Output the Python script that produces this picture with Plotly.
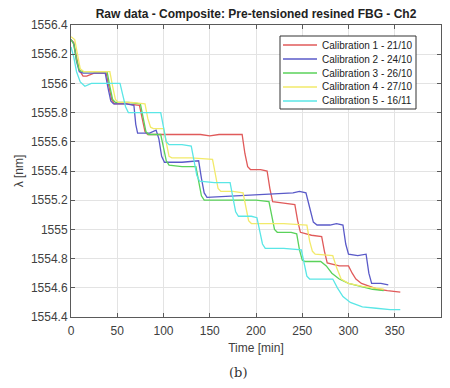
import plotly.graph_objects as go

# ---- data ----
series_names = ["Calibration 1 - 21/10", "Calibration 2 - 24/10", "Calibration 3 - 26/10",
                "Calibration 4 - 27/10", "Calibration 5 - 16/11"]

t_red = [0, 3, 6, 9, 13, 17, 25, 38, 41, 44, 47, 60, 74, 77, 80, 83, 110, 140, 150, 160, 185, 188, 191, 194,
         205, 212, 215, 218, 230, 242, 245, 248, 260, 271, 274, 277, 290, 300, 304, 308, 314, 322, 332, 342, 356]
y_red = [1556.30, 1556.28, 1556.18, 1556.09, 1556.05, 1556.05, 1556.07, 1556.07, 1555.98, 1555.89, 1555.86,
         1555.86, 1555.85, 1555.75, 1555.67, 1555.65, 1555.65, 1555.65, 1555.64, 1555.65, 1555.65, 1555.52,
         1555.43, 1555.41, 1555.41, 1555.40, 1555.28, 1555.19, 1555.18, 1555.17, 1555.06, 1554.98, 1554.96,
         1554.95, 1554.85, 1554.77, 1554.75, 1554.75, 1554.70, 1554.66, 1554.63, 1554.61, 1554.59, 1554.58,
         1554.57]

t_blue = [0, 3, 6, 9, 13, 25, 37, 40, 43, 46, 60, 68, 70, 72, 85, 92, 95, 98, 101, 120, 138, 141, 144, 147,
          180, 220, 240, 247, 254, 258, 262, 266, 280, 287, 294, 297, 300, 310, 319, 322, 325, 335, 343]
y_blue = [1556.30, 1556.27, 1556.15, 1556.08, 1556.07, 1556.07, 1556.07, 1555.97, 1555.88, 1555.86, 1555.86,
          1555.85, 1555.72, 1555.66, 1555.66, 1555.68, 1555.62, 1555.50, 1555.46, 1555.46, 1555.47, 1555.35,
          1555.25, 1555.22, 1555.23, 1555.24, 1555.25, 1555.26, 1555.25, 1555.15, 1555.05, 1555.03, 1555.03,
          1555.04, 1555.03, 1554.90, 1554.83, 1554.82, 1554.83, 1554.70, 1554.63, 1554.63, 1554.62]

t_green = [0, 3, 6, 9, 13, 25, 39, 42, 45, 48, 62, 75, 78, 81, 84, 97, 100, 103, 106, 120, 135, 138, 141, 144,
           170, 200, 214, 217, 220, 223, 238, 244, 247, 250, 253, 270, 276, 282, 290, 300, 312, 326, 338]
y_green = [1556.30, 1556.27, 1556.16, 1556.09, 1556.08, 1556.08, 1556.08, 1555.98, 1555.89, 1555.87, 1555.87,
           1555.86, 1555.76, 1555.67, 1555.65, 1555.65, 1555.56, 1555.47, 1555.44, 1555.43, 1555.43, 1555.32,
           1555.23, 1555.20, 1555.20, 1555.20, 1555.19, 1555.08, 1555.00, 1554.98, 1554.98, 1554.97, 1554.86,
           1554.79, 1554.78, 1554.78, 1554.75, 1554.70, 1554.66, 1554.63, 1554.61, 1554.59, 1554.58]

t_yellow = [0, 4, 7, 10, 14, 25, 42, 45, 48, 51, 65, 80, 83, 86, 89, 100, 103, 106, 109, 130, 153, 156, 159,
            162, 175, 186, 189, 192, 195, 230, 255, 258, 261, 264, 283, 287, 292, 300, 315, 330, 338]
y_yellow = [1556.32, 1556.30, 1556.20, 1556.10, 1556.08, 1556.08, 1556.08, 1555.98, 1555.89, 1555.87, 1555.87,
            1555.86, 1555.76, 1555.70, 1555.69, 1555.69, 1555.58, 1555.50, 1555.49, 1555.49, 1555.48, 1555.37,
            1555.28, 1555.26, 1555.26, 1555.25, 1555.14, 1555.06, 1555.04, 1555.04, 1555.03, 1554.92, 1554.85,
            1554.83, 1554.82, 1554.74, 1554.66, 1554.63, 1554.61, 1554.60, 1554.59]

t_cyan = [0, 3, 6, 10, 15, 22, 35, 53, 56, 59, 62, 80, 97, 100, 103, 106, 120, 130, 133, 136, 139, 155, 172,
          175, 178, 181, 195, 201, 204, 207, 210, 230, 249, 252, 255, 258, 283, 288, 294, 302, 315, 330, 345, 356]
y_cyan = [1556.25, 1556.18, 1556.08, 1556.01, 1555.98, 1556.00, 1556.00, 1556.00, 1555.92, 1555.84, 1555.80,
          1555.80, 1555.80, 1555.70, 1555.60, 1555.58, 1555.58, 1555.57, 1555.47, 1555.37, 1555.33, 1555.32,
          1555.32, 1555.22, 1555.12, 1555.09, 1555.09, 1555.08, 1554.98, 1554.90, 1554.87, 1554.87, 1554.86,
          1554.76, 1554.68, 1554.66, 1554.66, 1554.60, 1554.54, 1554.50, 1554.47, 1554.46, 1554.45, 1554.45]

x_ticks = [0, 50, 100, 150, 200, 250, 300, 350, 400]
y_ticks = [1554.4, 1554.6, 1554.8, 1555.0, 1555.2, 1555.4, 1555.6, 1555.8, 1556.0, 1556.2, 1556.4]
y_ticktext = ["1554.4", "1554.6", "1554.8", "1555", "1555.2", "1555.4", "1555.6", "1555.8", "1556",
              "1556.2", "1556.4"]

colors = ["#e05a5a", "#5a5ac8", "#5ad25a", "#f2ea6a", "#5ae6e6"]

xs = [t_red, t_blue, t_green, t_yellow, t_cyan]
ys = [y_red, y_blue, y_green, y_yellow, y_cyan]

W, H = 450, 388
ML, MR, MT, MB = 71, 9, 25, 71
PW, PH = W - ML - MR, H - MT - MB


def px_x(px):
    return (px - ML) / PW


def px_y(py):
    return 1 - (py - MT) / PH


fig = go.Figure()
for name, x, y, c in zip(series_names, xs, ys, colors):
    fig.add_trace(go.Scatter(x=x, y=y, mode="lines", name=name, showlegend=False,
                             line=dict(color=c, width=1.3)))

font_fam = "Liberation Sans, Arial, sans-serif"
axis_common = dict(showline=True, linecolor="#5a5a5a", linewidth=1, mirror="ticks",
                   ticks="inside", ticklen=4, tickcolor="#5a5a5a",
                   showgrid=True, gridcolor="#e3e3e3", gridwidth=1, zeroline=False,
                   tickfont=dict(family=font_fam, size=12, color="#404040"))

fig.update_layout(
    width=W, height=H,
    margin=dict(l=ML, r=MR, t=MT, b=MB),
    paper_bgcolor="white", plot_bgcolor="white",
    font=dict(family=font_fam, color="#333"),
    title=dict(text="<b>Raw data - Composite: Pre-tensioned resined FBG - Ch2</b>",
               x=(ML + W - MR) / 2 / W, xanchor="center", y=1 - 14 / H, yanchor="middle",
               font=dict(family=font_fam, size=12, color="#222")),
    xaxis=dict(range=[0, 400], tickvals=x_ticks, ticklabelstandoff=3,
               title=dict(text="Time [min]", font=dict(family=font_fam, size=12, color="#404040"),
                          standoff=6),
               **axis_common),
    yaxis=dict(range=[1554.4, 1556.4], tickvals=y_ticks, ticktext=y_ticktext,
               title=dict(text="λ [nm]", font=dict(family=font_fam, size=12, color="#404040"),
                          standoff=4),
               **axis_common),
    showlegend=False,
)

# custom compact legend (MATLAB style)
fig.add_shape(type="rect", xref="paper", yref="paper",
              x0=px_x(280), x1=px_x(416), y0=px_y(109), y1=px_y(36),
              line=dict(color="#333", width=1), fillcolor="white", layer="above")
row_y = [45, 59, 73, 87, 101]
for name, c, ry in zip(series_names, colors, row_y):
    fig.add_shape(type="line", xref="paper", yref="paper",
                  x0=px_x(283), x1=px_x(317), y0=px_y(ry), y1=px_y(ry),
                  line=dict(color=c, width=1.3), layer="above")
    fig.add_annotation(text=name, xref="paper", yref="paper", x=px_x(320), y=px_y(ry),
                       xanchor="left", yanchor="middle", showarrow=False,
                       font=dict(family=font_fam, size=10, color="#222"))

fig.add_annotation(text="(b)", xref="paper", yref="paper", x=px_x(238), y=px_y(372),
                   xanchor="center", yanchor="middle", showarrow=False,
                   font=dict(family="DejaVu Serif, Liberation Serif, serif", size=13, color="#333"))

fig.write_html("out.html")
